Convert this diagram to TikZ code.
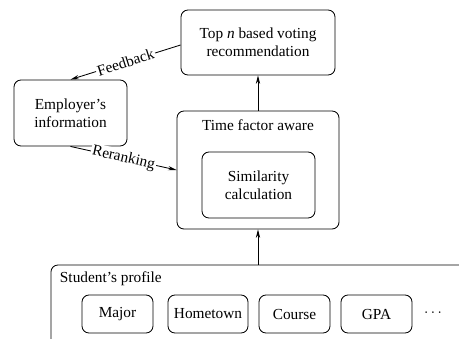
\documentclass[tikz,border=0pt]{standalone}
\usepackage{fontspec}
\setmainfont{Liberation Serif}
\usetikzlibrary{arrows.meta}

\begin{document}
\begin{tikzpicture}[
    x=0.025cm, y=-0.025cm,
    every node/.style={font=\fontsize{10.9}{13}\selectfont},
    block/.style={rectangle, draw, line width=0.6pt, rounded corners=5pt, align=center, inner sep=0pt},
    item/.style={rectangle, draw, line width=0.6pt, rounded corners=5pt, minimum height=0.95cm, inner sep=0pt},
    arrow/.style={-{Stealth[length=6pt, width=3pt]}, line width=0.6pt},
    label/.style={fill=white, inner sep=1pt, sloped}
]
    \useasboundingbox (0,0) rectangle (459,338);

% -------------------------
% Boxes
% -------------------------
    \node[block, minimum width=3.85cm, minimum height=1.625cm] (topn) at (258,42.5) {Top \emph{n} based voting\\recommendation};
    \node[block, minimum width=2.825cm, minimum height=1.65cm] (employer) at (70.5,113) {Employer's\\information};
    \node[block, minimum width=4.05cm, minimum height=2.95cm] (timeaware) at (258,170) {};
    \node[anchor=north] (timetitle) at (258,115) {Time factor aware};
    \node[block, minimum width=2.825cm, minimum height=1.65cm] (similarity) at (258.5,185) {Similarity\\calculation};

% -------------------------
% Student's profile
% -------------------------
    \node[block, minimum width=10.75cm, minimum height=2.25cm] (profile) at (266,310) {};
    \node[anchor=west] (proftitle) at (55,279) {Student's profile};
    \node[item, minimum width=1.775cm] (major) at (117.5,314) {Major};
    \node[item, minimum width=2cm] (hometown) at (208,314) {Hometown};
    \node[item, minimum width=1.775cm] (course) at (294.5,314) {Course};
    \node[item, minimum width=1.775cm] (gpa) at (376.5,314) {GPA};
    \node (dots) at (433,313) {$\cdots$};

% -------------------------
% Arrows
% -------------------------
    \draw[arrow] (profile.north -| timeaware.south) -- (timeaware.south);
    \draw[arrow] (timeaware.north) -- (topn.south);
    \draw[arrow] (topn.west |- 0,45) -- node[label] {Feedback} (employer.north);
    \draw[arrow] (employer.south) -- node[label] {Reranking} (timeaware.west |- 0,170);
\end{tikzpicture}
\end{document}
